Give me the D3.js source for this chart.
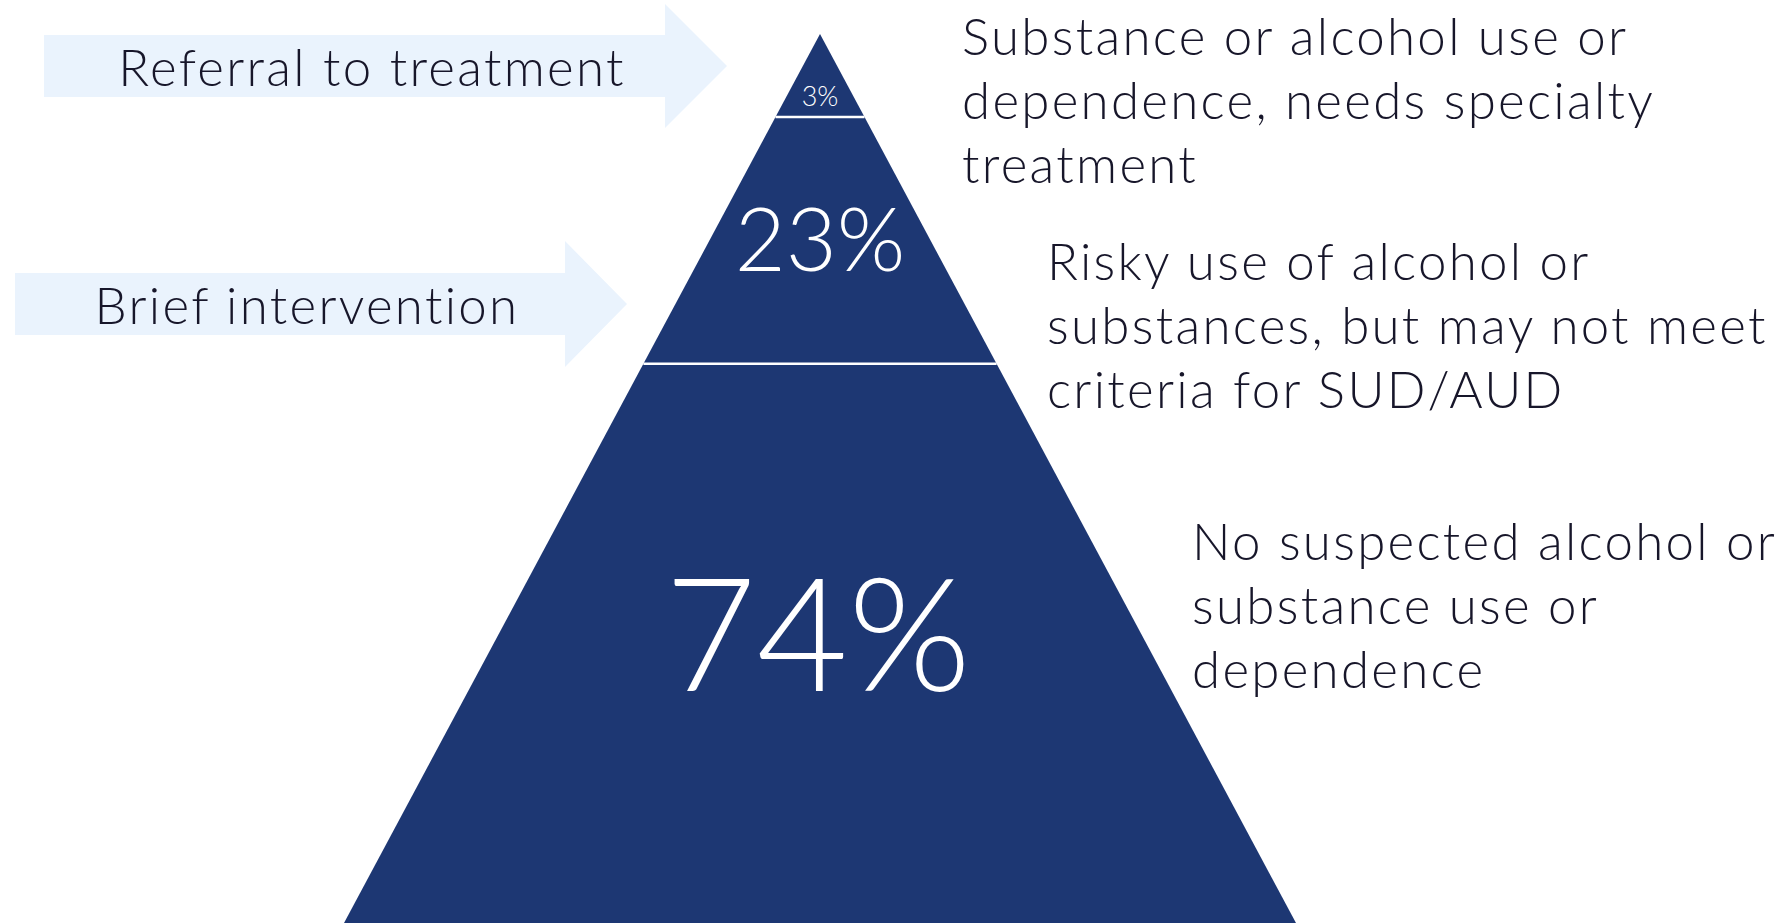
<!DOCTYPE html>
<html>
<head>
<meta charset="utf-8">
<script src="https://cdn.jsdelivr.net/npm/d3@7"></script>
<style>
  body { margin: 0; background: #fff; }
  text { font-family: Lato, "Open Sans", sans-serif; font-weight: 300; }
</style>
</head>
<body>
<div id="chart"></div>
<script>
// tiers, from top of the pyramid down
var tierPct = ["3%", "23%", "74%"];
var tierDesc = [
    ["Substance or alcohol use or", "dependence, needs specialty", "treatment"],
    ["Risky use of alcohol or", "substances, but may not meet", "criteria for SUD/AUD"],
    ["No suspected alcohol or", "substance use or", "dependence"]
];
var arrowLabels = ["Referral to treatment", "Brief intervention"];

var width = 1785, height = 923;
var navy = "#1d3773", pale = "#eaf3fd", ink = "#17162a";

var svg = d3.select("#chart").append("svg")
    .attr("width", width)
    .attr("height", height);

// pyramid geometry: t goes 0 (apex) -> 1 (base)
var apexX = 820;
var yScale = d3.scaleLinear().domain([0, 1]).range([34, 923]);
var halfW = d3.scaleLinear().domain([0, 1]).range([0, 476]);
var cuts = [0, 0.0935, 0.371, 1];   // tier boundaries

var tiers = tierPct.map(function(p, i) {
    return { pct: p, desc: tierDesc[i], t0: cuts[i], t1: cuts[i + 1] };
});

svg.selectAll("path.tier")
    .data(tiers)
    .enter()
    .append("path")
    .attr("class", "tier")
    .attr("fill", navy)
    .attr("d", function(d) {
        var y0 = yScale(d.t0), y1 = yScale(d.t1);
        return "M" + (apexX - halfW(d.t0)) + "," + y0 +
               "L" + (apexX + halfW(d.t0)) + "," + y0 +
               "L" + (apexX + halfW(d.t1)) + "," + y1 +
               "L" + (apexX - halfW(d.t1)) + "," + y1 + "Z";
    });

// white separators
svg.selectAll("line.sep")
    .data(cuts.slice(1, 3))
    .enter()
    .append("line")
    .attr("x1", function(t) { return apexX - halfW(t); })
    .attr("x2", function(t) { return apexX + halfW(t); })
    .attr("y1", function(t) { return yScale(t); })
    .attr("y2", function(t) { return yScale(t); })
    .attr("stroke", "#fff")
    .attr("stroke-width", 2.5);

// percent labels
var pctStyle = [
    { size: 27, base: 106, x: 820 },
    { size: 88, base: 271, x: 820 },
    { size: 158, base: 691, x: 818 }
];
svg.selectAll("text.pct")
    .data(tiers)
    .enter()
    .append("text")
    .attr("class", "pct")
    .attr("text-anchor", "middle")
    .attr("fill", "#fff")
    .attr("x", function(d, i) { return pctStyle[i].x; })
    .attr("y", function(d, i) { return pctStyle[i].base; })
    .style("font-size", function(d, i) { return pctStyle[i].size + "px"; })
    .text(function(d) { return d.pct; });

// descriptions on the right
var descPos = [
    { x: 962, y: 55 },
    { x: 1047, y: 280 },
    { x: 1192, y: 560 }
];
var lineH = 64;
tiers.forEach(function(d, i) {
    var g = svg.append("text")
        .attr("fill", ink)
        .style("font-size", "51px")
        .style("letter-spacing", "2.3px");
    d.desc.forEach(function(line, j) {
        g.append("tspan")
            .attr("x", descPos[i].x)
            .attr("y", descPos[i].y + j * lineH)
            .text(line);
    });
});

// arrows on the left
var arrowGeo = [
    { x0: 44, x1: 665, tip: 727, yc: 66, body: 31, head: 62, tx: 372 },
    { x0: 15, x1: 565, tip: 627, yc: 304, body: 31, head: 63, tx: 307 }
];
var arrows = arrowLabels.map(function(l, i) { return { label: l, g: arrowGeo[i] }; });

svg.selectAll("path.arrow")
    .data(arrows)
    .enter()
    .append("path")
    .attr("fill", pale)
    .attr("d", function(d) {
        var g = d.g;
        return "M" + g.x0 + "," + (g.yc - g.body) +
               "L" + g.x1 + "," + (g.yc - g.body) +
               "L" + g.x1 + "," + (g.yc - g.head) +
               "L" + g.tip + "," + g.yc +
               "L" + g.x1 + "," + (g.yc + g.head) +
               "L" + g.x1 + "," + (g.yc + g.body) +
               "L" + g.x0 + "," + (g.yc + g.body) + "Z";
    });

svg.selectAll("text.arrowlbl")
    .data(arrows)
    .enter()
    .append("text")
    .attr("text-anchor", "middle")
    .attr("fill", ink)
    .attr("x", function(d) { return d.g.tx; })
    .attr("y", function(d) { return d.g.yc + 20; })
    .style("font-size", "51px")
    .style("letter-spacing", "2.3px")
    .text(function(d) { return d.label; });
</script>
</body>
</html>
